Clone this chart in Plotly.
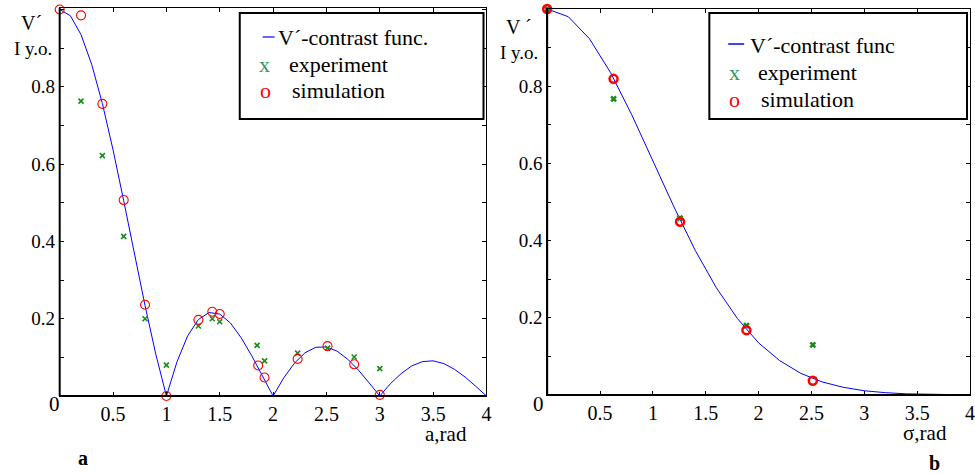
import plotly.graph_objects as go

W, H = 975, 474


def px(x):
    return x / W


def py(y):
    return 1 - y / H


# ---------------- data: panel a ----------------
a_curve_x = [0.0, 0.1, 0.2, 0.3, 0.4, 0.5, 0.6, 0.7, 0.8, 0.9, 1.0,
             1.1, 1.2, 1.3, 1.4, 1.5, 1.6, 1.7, 1.8, 1.9, 2.0,
             2.1, 2.2, 2.3, 2.4, 2.5, 2.6, 2.7, 2.8, 2.9, 3.0,
             3.1, 3.2, 3.3, 3.4, 3.5, 3.6, 3.7, 3.8, 3.9, 4.0]
a_curve_y = [1.0, 0.984, 0.935, 0.858, 0.757, 0.637, 0.505, 0.368, 0.234, 0.109, 0.0,
             0.089, 0.156, 0.198, 0.216, 0.212, 0.189, 0.151, 0.104, 0.052, 0.0,
             0.047, 0.085, 0.112, 0.126, 0.127, 0.116, 0.095, 0.067, 0.034, 0.0,
             0.032, 0.058, 0.078, 0.089, 0.091, 0.084, 0.069, 0.049, 0.025, 0.0]
a_sim_x = [0.0, 0.2, 0.4, 0.6, 0.8, 1.0, 1.3, 1.43, 1.5, 1.86, 1.92, 2.23, 2.51, 2.76, 3.0]
a_sim_y = [1.0, 0.985, 0.756, 0.507, 0.236, 0.0, 0.197, 0.218, 0.212, 0.079, 0.048, 0.096, 0.129, 0.082, 0.003]
a_exp_x = [0.2, 0.4, 0.6, 0.8, 1.0, 1.3, 1.43, 1.5, 1.85, 1.92, 2.23, 2.51, 2.76, 3.0]
a_exp_y = [0.763, 0.622, 0.413, 0.200, 0.080, 0.181, 0.200, 0.192, 0.131, 0.091, 0.111, 0.124, 0.101, 0.071]

# ---------------- data: panel b ----------------
b_curve_x = [0.0, 0.2, 0.4, 0.6, 0.8, 1.0, 1.2, 1.4, 1.6, 1.8, 2.0,
             2.2, 2.4, 2.6, 2.8, 3.0, 3.2, 3.4, 3.6, 3.8, 4.0]
b_curve_y = [1.0, 0.980, 0.923, 0.835, 0.726, 0.607, 0.487, 0.375, 0.278, 0.198, 0.135,
             0.089, 0.056, 0.034, 0.020, 0.011, 0.006, 0.003, 0.0015, 0.0007, 0.0003]
b_pts_x = [0.0, 0.628, 1.257, 1.885, 2.513]
b_sim_y = [1.0, 0.819, 0.449, 0.168, 0.037]
b_exp_y = [1.0, 0.767, 0.458, 0.180, 0.130]

x_tickvals = [0.5, 1, 1.5, 2, 2.5, 3, 3.5, 4]
x_ticktext = ["0.5", "1", "1.5", "2", "2.5", "3", "3.5", "4"]
y_tickvals = [0.1, 0.2, 0.3, 0.4, 0.5, 0.6, 0.7, 0.8, 0.9, 1.0]
y_ticktext = ["", "0.2", "", "0.4", "", "0.6", "", "0.8", "", "1"]

SERIF = "Liberation Serif, Times New Roman, serif"
BLUE = "#0000ff"
GREEN = "#1a8a1a"
RED = "#ff0000"

fig = go.Figure()

# panel a
fig.add_trace(go.Scatter(x=a_curve_x, y=a_curve_y, mode="lines",
                         line=dict(color=BLUE, width=1), xaxis="x", yaxis="y",
                         cliponaxis=False, showlegend=False))
fig.add_trace(go.Scatter(x=a_exp_x, y=a_exp_y, mode="markers",
                         marker=dict(symbol="x-thin-open", size=5, color=GREEN,
                                     line=dict(width=1.6, color=GREEN)),
                         xaxis="x", yaxis="y", cliponaxis=False, showlegend=False))
fig.add_trace(go.Scatter(x=a_sim_x, y=a_sim_y, mode="markers",
                         marker=dict(symbol="circle-open", size=9, color=RED,
                                     line=dict(width=1.1, color=RED)),
                         xaxis="x", yaxis="y", cliponaxis=False, showlegend=False))

# panel b
fig.add_trace(go.Scatter(x=b_curve_x, y=b_curve_y, mode="lines",
                         line=dict(color=BLUE, width=1), xaxis="x2", yaxis="y2",
                         cliponaxis=False, showlegend=False))
fig.add_trace(go.Scatter(x=b_pts_x, y=b_exp_y, mode="markers",
                         marker=dict(symbol="x-thin-open", size=5, color=GREEN,
                                     line=dict(width=2.5, color=GREEN)),
                         xaxis="x2", yaxis="y2", cliponaxis=False, showlegend=False))
fig.add_trace(go.Scatter(x=b_pts_x, y=b_sim_y, mode="markers",
                         marker=dict(symbol="circle-open", size=8, color=RED,
                                     line=dict(width=2.5, color=RED)),
                         xaxis="x2", yaxis="y2", cliponaxis=False, showlegend=False))

axis_common = dict(showgrid=False, zeroline=False, showline=True, linecolor="black",
                   linewidth=1, mirror="ticks", ticks="inside", ticklen=4,
                   tickcolor="black", tickwidth=1)

fig.update_layout(
    width=W, height=H,
    margin=dict(l=0, r=0, t=0, b=0),
    paper_bgcolor="white", plot_bgcolor="white",
    showlegend=False,
    font=dict(family=SERIF, color="black"),
    xaxis=dict(domain=[px(60), px(489)], range=[0, 4], anchor="y",
               tickvals=x_tickvals, ticktext=x_ticktext,
               tickfont=dict(family=SERIF, size=20, color="black"), **axis_common),
    yaxis=dict(domain=[py(396), py(8)], range=[0, 1.004], anchor="x",
               tickvals=y_tickvals, ticktext=y_ticktext,
               tickfont=dict(family=SERIF, size=19, color="black"), **axis_common),
    xaxis2=dict(domain=[px(550), 1.0], range=[0, 4], anchor="y2",
                tickvals=x_tickvals, ticktext=x_ticktext,
                tickfont=dict(family=SERIF, size=20, color="black"), **axis_common),
    yaxis2=dict(domain=[py(395), py(9)], range=[0, 1.0], anchor="x2",
                tickvals=y_tickvals, ticktext=y_ticktext,
                tickfont=dict(family=SERIF, size=19, color="black"), **axis_common),
)

shapes = []
for (x0, y0, x1, y1) in [(60, 8, 60, 396), (60, 396, 489, 396),
                         (550, 9, 550, 395), (550, 395, 975, 395)]:
    shapes.append(dict(type="line", xref="paper", yref="paper",
                       x0=px(x0), y0=py(y0), x1=px(x1), y1=py(y1),
                       line=dict(color="black", width=2)))
shapes.append(dict(type="rect", xref="paper", yref="paper",
                   x0=px(241), y0=py(119), x1=px(486), y1=py(13),
                   line=dict(color="black", width=2), fillcolor="white", layer="above"))
shapes.append(dict(type="rect", xref="paper", yref="paper",
                   x0=px(713), y0=py(119), x1=px(972), y1=py(13),
                   line=dict(color="black", width=2), fillcolor="white", layer="above"))
shapes.append(dict(type="line", xref="paper", yref="paper",
                   x0=px(264), y0=py(37), x1=px(276), y1=py(37),
                   line=dict(color=BLUE, width=1.2)))
shapes.append(dict(type="line", xref="paper", yref="paper",
                   x0=px(732), y0=py(44), x1=px(748), y1=py(44),
                   line=dict(color=BLUE, width=1.5)))
fig.update_layout(shapes=shapes)

ann = []


def text(x, y, s, size=22, color="black", xanchor="left", bold=False):
    ann.append(dict(xref="paper", yref="paper", x=px(x), y=py(y), text=("<b>%s</b>" % s if bold else s),
                    showarrow=False, xanchor=xanchor, yanchor="middle", borderpad=0,
                    font=dict(family=SERIF, size=size, color=color)))


# legend a
text(278, 37, "V´-contrast func.")
text(266, 64, "x", color="#2e9a5a", xanchor="center")
text(289, 64, "experiment")
text(267, 90, "o", color=RED, xanchor="center")
text(292, 90, "simulation")
# legend b
text(753, 45, "V´-contrast func")
text(738, 72, "x", color="#2e9a5a", xanchor="center")
text(761, 72, "experiment")
text(738, 100, "o", color=RED, xanchor="center")
text(764, 100, "simulation")

# axis labels
text(32, 23, "V´", size=20, xanchor="center")
text(33, 49, "I y.o.", size=19, xanchor="center")
text(522, 27, "V ´", size=20, xanchor="center")
text(522, 52, "I y.o.", size=19, xanchor="center")
text(55, 404, "0", size=21, xanchor="center")
text(541, 404, "0", size=21, xanchor="center")
text(448, 434, "a,rad", size=21, xanchor="center")
text(930, 433, "σ,rad", size=21, xanchor="center")
text(83, 458, "a", size=20, xanchor="center", bold=True)
text(939, 463, "b", size=20, xanchor="center", bold=True)

fig.update_layout(annotations=ann)

fig.write_html("out.html", config={"displayModeBar": False},
               post_script="document.body.style.margin='0px';document.body.style.overflow='hidden';")
